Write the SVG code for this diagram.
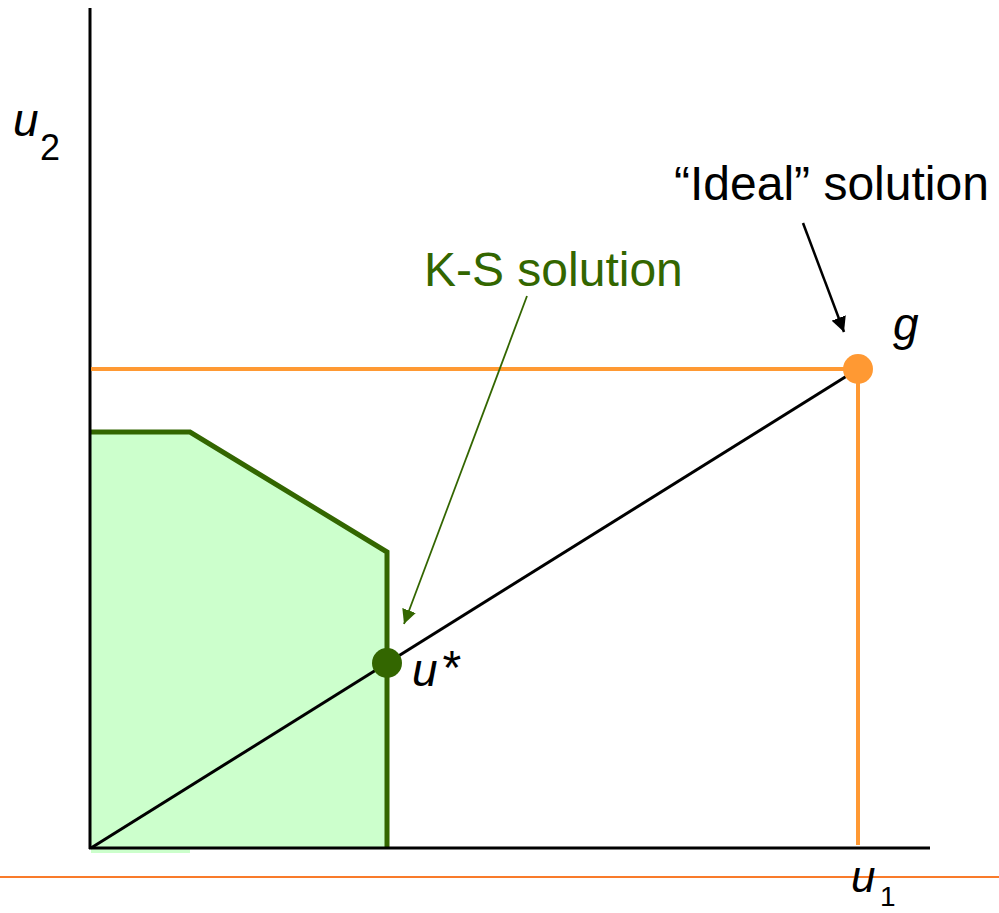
<svg xmlns="http://www.w3.org/2000/svg" width="999" height="913" viewBox="0 0 999 913">
<style>
text{font-family:"Liberation Sans",Arial,sans-serif;}
.it{font-style:italic;}
.lbl{font-size:48px;}
</style>
<defs>
<marker id="ab" viewBox="0 0 10 10" refX="10" refY="5" markerWidth="6" markerHeight="6" orient="auto" markerUnits="strokeWidth"><path d="M0,0 L10,5 L0,10 z" fill="#000"/></marker>
<marker id="ag" viewBox="0 0 10 10" refX="10" refY="5" markerWidth="8" markerHeight="8" orient="auto" markerUnits="strokeWidth"><path d="M0,0 L10,5 L0,10 z" fill="#336600"/></marker>
</defs>
<rect width="999" height="913" fill="#fff"/>
<g id="region">
<rect x="91" y="846" width="99" height="7" fill="#ccffcc"/>
<polygon points="91,432 190,432 387,552 387,848 91,848" fill="#ccffcc"/>
<polyline points="91,432 190,432 387,552 387,848" fill="none" stroke="#336600" stroke-width="5"/>
</g>
<g id="axes">
<line x1="90" y1="8" x2="90" y2="849" stroke="#000" stroke-width="3"/>
<line x1="89" y1="848" x2="930" y2="848" stroke="#000" stroke-width="3"/>
<line x1="0" y1="877" x2="999" y2="877" stroke="#f97b2a" stroke-width="2"/>
</g>
<g id="connectors">
<line x1="91" y1="369" x2="858" y2="369" stroke="#ff9933" stroke-width="4"/>
<line x1="858" y1="369" x2="858" y2="845" stroke="#ff9933" stroke-width="4"/>
<line x1="91" y1="848" x2="858" y2="369" stroke="#000" stroke-width="3"/>
<line x1="803" y1="223" x2="844" y2="332" stroke="#000" stroke-width="2.5" marker-end="url(#ab)"/>
<line x1="527" y1="296" x2="404" y2="624" stroke="#336600" stroke-width="1.8" marker-end="url(#ag)"/>
</g>
<g id="g-point">
<circle cx="858" cy="369" r="15" fill="#ff9933"/>
<text x="893" y="340" class="it" font-size="46">g</text>
</g>
<g id="ustar">
<circle cx="387" cy="663" r="15" fill="#336600"/>
<text x="412" y="686" class="it" font-size="46">u<tspan dx="3" dy="-2" font-size="48">*</tspan></text>
</g>
<g id="ideal-label">
<text x="674" y="200" class="lbl">“Ideal” solution</text>
</g>
<g id="ks-label">
<text x="424" y="286" class="lbl" fill="#336600">K-S solution</text>
</g>
<g id="u2-label">
<text x="13" y="136" class="it" font-size="46">u</text>
<text x="40" y="160" font-size="36">2</text>
</g>
<g id="u1-label">
<text x="851" y="892" class="it" font-size="44">u</text>
<text x="880" y="906" font-size="28">1</text>
</g>
</svg>
